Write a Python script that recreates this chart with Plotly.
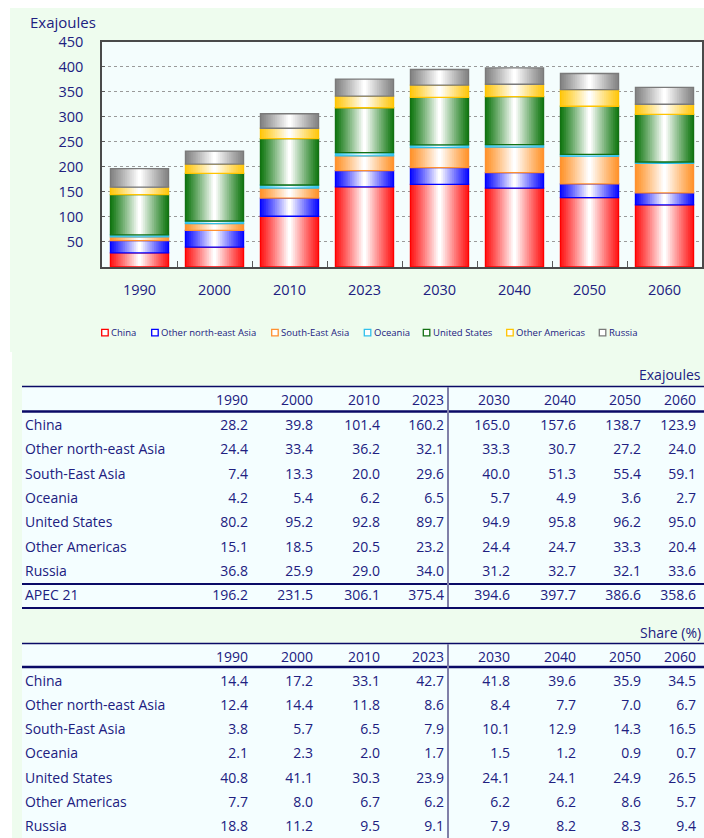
import plotly.graph_objects as go

# ---------------------------------------------------------------- data
years = ["1990", "2000", "2010", "2023", "2030", "2040", "2050", "2060"]
regions = ["China", "Other north-east Asia", "South-East Asia", "Oceania",
           "United States", "Other Americas", "Russia"]

# Primary energy supply, exajoules
china = [28.2, 39.8, 101.4, 160.2, 165.0, 157.6, 138.7, 123.9]
other_ne_asia = [24.4, 33.4, 36.2, 32.1, 33.3, 30.7, 27.2, 24.0]
south_east_asia = [7.4, 13.3, 20.0, 29.6, 40.0, 51.3, 55.4, 59.1]
oceania = [4.2, 5.4, 6.2, 6.5, 5.7, 4.9, 3.6, 2.7]
united_states = [80.2, 95.2, 92.8, 89.7, 94.9, 95.8, 96.2, 95.0]
other_americas = [15.1, 18.5, 20.5, 23.2, 24.4, 24.7, 33.3, 20.4]
russia = [36.8, 25.9, 29.0, 34.0, 31.2, 32.7, 32.1, 33.6]
apec_total = [196.2, 231.5, 306.1, 375.4, 394.6, 397.7, 386.6, 358.6]

# Share of APEC total, %
share_china = [14.4, 17.2, 33.1, 42.7, 41.8, 39.6, 35.9, 34.5]
share_other_ne_asia = [12.4, 14.4, 11.8, 8.6, 8.4, 7.7, 7.0, 6.7]
share_south_east_asia = [3.8, 5.7, 6.5, 7.9, 10.1, 12.9, 14.3, 16.5]
share_oceania = [2.1, 2.3, 2.0, 1.7, 1.5, 1.2, 0.9, 0.7]
share_united_states = [40.8, 41.1, 30.3, 23.9, 24.1, 24.1, 24.9, 26.5]
share_other_americas = [7.7, 8.0, 6.7, 6.2, 6.2, 6.2, 8.6, 5.7]
share_russia = [18.8, 11.2, 9.5, 9.1, 7.9, 8.2, 8.3, 9.4]

y_ticks = [50, 100, 150, 200, 250, 300, 350, 400, 450]

series = [china, other_ne_asia, south_east_asia, oceania,
          united_states, other_americas, russia]
shares = [share_china, share_other_ne_asia, share_south_east_asia, share_oceania,
          share_united_states, share_other_americas, share_russia]

# ---------------------------------------------------------------- style
W, H = 704, 838
NAVY = "#202080"
RULE = "#0a0a66"
FONT = "Open Sans"
edge_colors = ["#ff1a1a", "#1010ff", "#ff962f", "#36c6f0",
               "#167a16", "#ffc814", "#858585"]
outline_colors = ["#ff0000", "#0000ff", "#ff9030", "#30c0ec",
                  "#137013", "#ffc400", "#7a7a7a"]
BAR_W = 0.775
LAYERS = 16


def fx(px):
    return px / W


def fy(py):
    return 1 - py / H


def mix(hex_color, t):
    r, g, b = (int(hex_color[i:i + 2], 16) for i in (1, 3, 5))
    return "rgb({:.0f},{:.0f},{:.0f})".format(r + (255 - r) * t,
                                              g + (255 - g) * t,
                                              b + (255 - b) * t)


fig = go.Figure()

# ---------------------------------------------------------------- stacked bars
# each segment is a stack of narrowing bars fading from the edge colour to white
base = [0.0] * len(years)
for name, vals, col, line_col in zip(regions, series, edge_colors, outline_colors):
    for k in range(LAYERS):
        frac = k / (LAYERS - 1)
        fig.add_trace(go.Bar(
            x=years, y=vals, base=base, width=BAR_W * (1 - k / LAYERS),
            marker=dict(color=mix(col, frac ** 1.1), line=dict(width=0)),
            opacity=1, showlegend=False, hoverinfo="skip"))
    fig.add_trace(go.Bar(
        x=years, y=vals, base=base, width=BAR_W, name=name,
        marker=dict(color="rgba(0,0,0,0)", line=dict(color=line_col, width=1.3)),
        opacity=1, showlegend=False,
        hovertemplate="%{x}: %{y:.1f} EJ<extra>" + name + "</extra>"))
    base = [b + v for b, v in zip(base, vals)]

# ---------------------------------------------------------------- tables
fmt = lambda row: ["{:.1f}".format(v) for v in row]
col_widths = [174, 65, 65, 67, 64, 66, 66, 65, 55]
aligns = ["left"] + ["right"] * len(years)
tbl_font = dict(family=FONT, size=14, color=NAVY)

energy_rows = [fmt(s) for s in series] + [fmt(apec_total)]
energy_labels = regions + ["APEC 21"]
energy_cols = [energy_labels] + [[r[i] for r in energy_rows] for i in range(len(years))]

share_rows = [fmt(s) for s in shares]
share_cols = [regions] + [[r[i] for r in share_rows] for i in range(len(years))]

for cols, top, bottom, head_h in ((energy_cols, 386, 609, 25.5),
                                  (share_cols, 643, 838, 24)):
    fig.add_trace(go.Table(
        domain=dict(x=[fx(17), 1], y=[fy(bottom), fy(top)]),
        columnwidth=col_widths,
        header=dict(values=[""] + years, align=aligns, height=head_h,
                    fill=dict(color="rgba(0,0,0,0)"),
                    line=dict(color="rgba(0,0,0,0)", width=0), font=tbl_font),
        cells=dict(values=cols, align=aligns, height=24.3,
                   fill=dict(color="rgba(0,0,0,0)"),
                   line=dict(color="rgba(0,0,0,0)", width=0), font=tbl_font),
    ))

# ---------------------------------------------------------------- backgrounds and rules
shapes = [
    dict(type="rect", xref="paper", yref="paper", x0=fx(10), x1=1, y0=fy(352), y1=fy(8),
         fillcolor="#eefcee", line=dict(width=0), layer="below"),
    dict(type="rect", xref="paper", yref="paper", x0=fx(12), x1=1, y0=0, y1=fy(352),
         fillcolor="#eefcee", line=dict(width=0), layer="below"),
    dict(type="rect", xref="x domain", yref="y domain", x0=0, x1=1, y0=0, y1=1,
         fillcolor="#f4fdfd", line=dict(width=0), layer="below"),
    dict(type="rect", xref="paper", yref="paper", x0=fx(22), x1=1, y0=fy(608), y1=fy(386),
         fillcolor="#f4feff", line=dict(width=0), layer="below"),
    dict(type="rect", xref="paper", yref="paper", x0=fx(22), x1=1, y0=0, y1=fy(643),
         fillcolor="#f4feff", line=dict(width=0), layer="below"),
]


def hrule(py, width):
    return dict(type="line", xref="paper", yref="paper", x0=fx(22), x1=1,
                y0=fy(py), y1=fy(py), line=dict(color=RULE, width=width), layer="above")


def vrule(py0, py1):
    return dict(type="line", xref="paper", yref="paper", x0=fx(448), x1=fx(448),
                y0=fy(py0), y1=fy(py1), line=dict(color="#8080a8", width=2), layer="above")


shapes += [hrule(386.5, 1.5), hrule(411.5, 2.5), hrule(584, 2), hrule(608, 2),
           vrule(387, 607),
           hrule(643.5, 1.5), hrule(667, 2.5), vrule(644, 838)]

# legend keys: hollow squares
legend_x = [101.7, 151.7, 271.7, 364.3, 423.3, 506.7, 599.3]
annotations = []
for lx, name, col in zip(legend_x, regions, outline_colors):
    shapes.append(dict(type="rect", xref="paper", yref="paper",
                       x0=fx(lx), x1=fx(lx + 6.5), y0=fy(335.8), y1=fy(329.3),
                       fillcolor="#ffffff", line=dict(color=col, width=1.3),
                       layer="above"))
    annotations.append(dict(text=name, xref="paper", yref="paper",
                            x=fx(lx + 7.5), y=fy(332.3), xanchor="left", yanchor="middle",
                            showarrow=False, font=dict(family=FONT, size=9.5, color=NAVY)))

annotations += [
    dict(text="Exajoules", xref="paper", yref="paper", x=fx(28), y=fy(22),
         xanchor="left", yanchor="middle", showarrow=False,
         font=dict(family=FONT, size=15, color=NAVY)),
    dict(text="Exajoules", xref="paper", yref="paper", x=fx(703), y=fy(374),
         xanchor="right", yanchor="middle", showarrow=False,
         font=dict(family=FONT, size=14, color=NAVY)),
    dict(text="Share (%)", xref="paper", yref="paper", x=fx(703), y=fy(632),
         xanchor="right", yanchor="middle", showarrow=False,
         font=dict(family=FONT, size=14, color=NAVY)),
]

# ---------------------------------------------------------------- layout
fig.update_layout(
    width=W, height=H,
    margin=dict(l=0, r=0, t=0, b=0, autoexpand=False),
    paper_bgcolor="white", plot_bgcolor="rgba(0,0,0,0)",
    barmode="overlay", showlegend=False,
    font=dict(family=FONT, color=NAVY),
    xaxis=dict(domain=[fx(102), fx(702)], type="category", automargin=False,
               showline=True, mirror=True, linecolor="#4a4a4a", linewidth=1.5,
               ticks="inside", tickson="boundaries", ticklen=6, tickcolor="#5a5a5a",
               tickfont=dict(family=FONT, size=14.5, color=NAVY),
               ticklabelstandoff=9, showgrid=False),
    yaxis=dict(domain=[fy(267), fy(41.7)], range=[0, 450], tickvals=y_ticks,
               automargin=False,
               showline=True, mirror=True, linecolor="#4a4a4a", linewidth=1.5,
               ticks="inside", ticklen=3, tickcolor="#5a5a5a",
               showgrid=True, gridcolor="#9a9a9a", griddash="dot", gridwidth=1,
               zeroline=False,
               tickfont=dict(family=FONT, size=14.5, color=NAVY),
               ticklabelstandoff=14),
    shapes=shapes,
    annotations=annotations,
)

fig.write_html("out.html")
